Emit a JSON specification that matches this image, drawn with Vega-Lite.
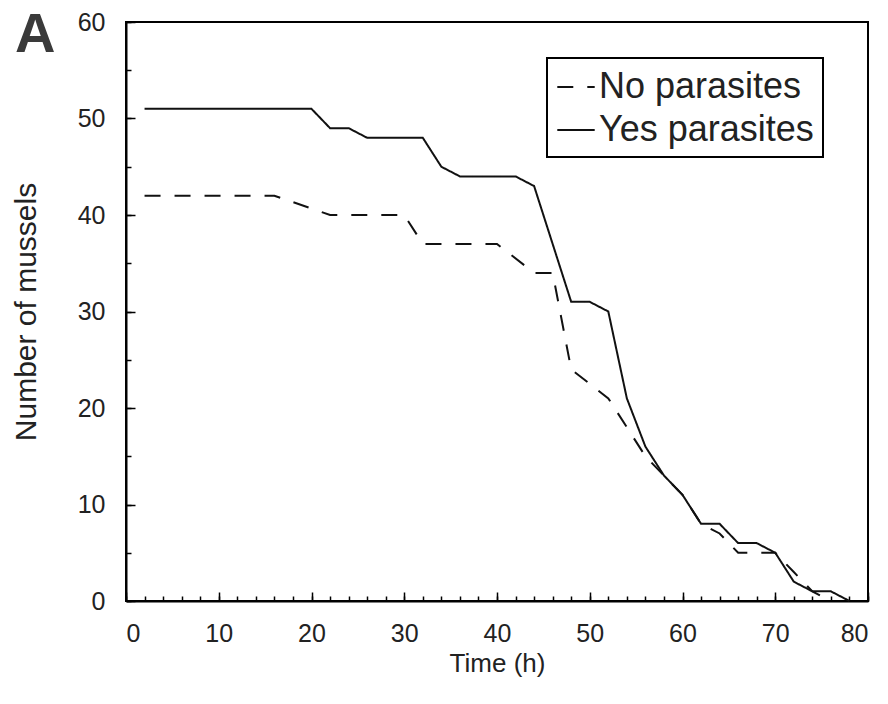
{
  "$schema": "https://vega.github.io/schema/vega-lite/v6.json",
  "width": 742,
  "height": 579,
  "autosize": "none",
  "padding": {"left": 126, "top": 22, "right": 20, "bottom": 103},
  "background": "white",
  "config": {
    "font": "Liberation Sans",
    "view": {"stroke": "black", "strokeWidth": 2},
    "axis": {"labelFont": "Liberation Sans", "titleFont": "Liberation Sans", "labelColor": "#222", "titleColor": "#222", "domainColor": "black", "tickColor": "black", "grid": false, "titleFontWeight": "normal"}
  },
  "title": {"text": "A", "anchor": "start", "frame": "group", "dx": -111, "dy": 58, "fontSize": 56, "fontWeight": "bold", "color": "#3a3a3a", "font": "Liberation Sans"},
  "data": {"values": [
    {"time": 2, "count": 42, "group": "No parasites"},
    {"time": 16, "count": 42, "group": "No parasites"},
    {"time": 22, "count": 40, "group": "No parasites"},
    {"time": 30, "count": 40, "group": "No parasites"},
    {"time": 32, "count": 37, "group": "No parasites"},
    {"time": 40, "count": 37, "group": "No parasites"},
    {"time": 44, "count": 34, "group": "No parasites"},
    {"time": 46, "count": 34, "group": "No parasites"},
    {"time": 48, "count": 24, "group": "No parasites"},
    {"time": 52, "count": 21, "group": "No parasites"},
    {"time": 54, "count": 18, "group": "No parasites"},
    {"time": 56, "count": 15, "group": "No parasites"},
    {"time": 58, "count": 13, "group": "No parasites"},
    {"time": 60, "count": 11, "group": "No parasites"},
    {"time": 62, "count": 8, "group": "No parasites"},
    {"time": 64, "count": 7, "group": "No parasites"},
    {"time": 66, "count": 5, "group": "No parasites"},
    {"time": 70, "count": 5, "group": "No parasites"},
    {"time": 72, "count": 3, "group": "No parasites"},
    {"time": 74, "count": 1, "group": "No parasites"},
    {"time": 76, "count": 0, "group": "No parasites"},
    {"time": 2, "count": 51, "group": "Yes parasites"},
    {"time": 20, "count": 51, "group": "Yes parasites"},
    {"time": 22, "count": 49, "group": "Yes parasites"},
    {"time": 24, "count": 49, "group": "Yes parasites"},
    {"time": 26, "count": 48, "group": "Yes parasites"},
    {"time": 32, "count": 48, "group": "Yes parasites"},
    {"time": 34, "count": 45, "group": "Yes parasites"},
    {"time": 36, "count": 44, "group": "Yes parasites"},
    {"time": 42, "count": 44, "group": "Yes parasites"},
    {"time": 44, "count": 43, "group": "Yes parasites"},
    {"time": 48, "count": 31, "group": "Yes parasites"},
    {"time": 50, "count": 31, "group": "Yes parasites"},
    {"time": 52, "count": 30, "group": "Yes parasites"},
    {"time": 54, "count": 21, "group": "Yes parasites"},
    {"time": 56, "count": 16, "group": "Yes parasites"},
    {"time": 58, "count": 13, "group": "Yes parasites"},
    {"time": 60, "count": 11, "group": "Yes parasites"},
    {"time": 62, "count": 8, "group": "Yes parasites"},
    {"time": 64, "count": 8, "group": "Yes parasites"},
    {"time": 66, "count": 6, "group": "Yes parasites"},
    {"time": 68, "count": 6, "group": "Yes parasites"},
    {"time": 70, "count": 5, "group": "Yes parasites"},
    {"time": 72, "count": 2, "group": "Yes parasites"},
    {"time": 74, "count": 1, "group": "Yes parasites"},
    {"time": 76, "count": 1, "group": "Yes parasites"},
    {"time": 78, "count": 0, "group": "Yes parasites"}
  ]},
  "resolve": {"axis": {"x": "independent", "y": "independent"}},
  "layer": [
    {
      "mark": {"type": "line", "color": "#111", "strokeWidth": 2},
      "encoding": {
        "x": {"field": "time", "type": "quantitative", "scale": {"domain": [0, 80], "nice": false},
          "axis": {"orient": "bottom", "values": [0,10,20,30,40,50,60,70,80], "tickSize": -9, "labelPadding": 29, "labelFontSize": 25, "title": "Time (h)", "titleFontSize": 26, "titlePadding": 4, "domainWidth": 2, "tickWidth": 1.5}},
        "y": {"field": "count", "type": "quantitative", "scale": {"domain": [0, 60], "nice": false},
          "axis": {"orient": "left", "values": [0,10,20,30,40,50,60], "tickSize": -9, "labelPadding": 30, "labelFontSize": 25, "title": "Number of mussels", "titleFontSize": 30, "titlePadding": 36, "domainWidth": 2, "tickWidth": 1.5}},
        "strokeDash": {"field": "group", "type": "nominal",
          "scale": {"domain": ["No parasites", "Yes parasites"], "range": [[16, 14], [1, 0]]},
          "legend": {"title": null, "orient": "none", "legendX": 421, "legendY": 36, "labelFontSize": 36, "labelLimit": 500, "labelFont": "Liberation Sans", "labelColor": "#222", "symbolType": "stroke", "symbolSize": 1400, "symbolStrokeColor": "#111", "symbolStrokeWidth": 2, "strokeColor": "black", "padding": 9, "rowPadding": 5, "labelOffset": 3, "symbolOffset": 0,
            "encode": {
              "legend": {"update": {"strokeWidth": {"value": 2}}},
              "symbols": {"update": {"strokeDash": {"signal": "datum.value === 'No parasites' ? [7, 7] : [1, 0]"}}}
            }}}
      }
    },
    {
      "mark": {"type": "line", "opacity": 0},
      "encoding": {
        "x": {"field": "time", "type": "quantitative",
          "axis": {"orient": "bottom", "values": [0,2,4,6,8,10,12,14,16,18,20,22,24,26,28,30,32,34,36,38,40,42,44,46,48,50,52,54,56,58,60,62,64,66,68,70,72,74,76,78,80], "tickSize": -5, "labels": false, "domain": false, "title": null, "tickWidth": 1.5}},
        "y": {"field": "count", "type": "quantitative",
          "axis": {"orient": "left", "values": [0,5,10,15,20,25,30,35,40,45,50,55,60], "tickSize": -5, "labels": false, "domain": false, "title": null, "tickWidth": 1.5}},
        "detail": {"field": "group"}
      }
    }
  ]
}
